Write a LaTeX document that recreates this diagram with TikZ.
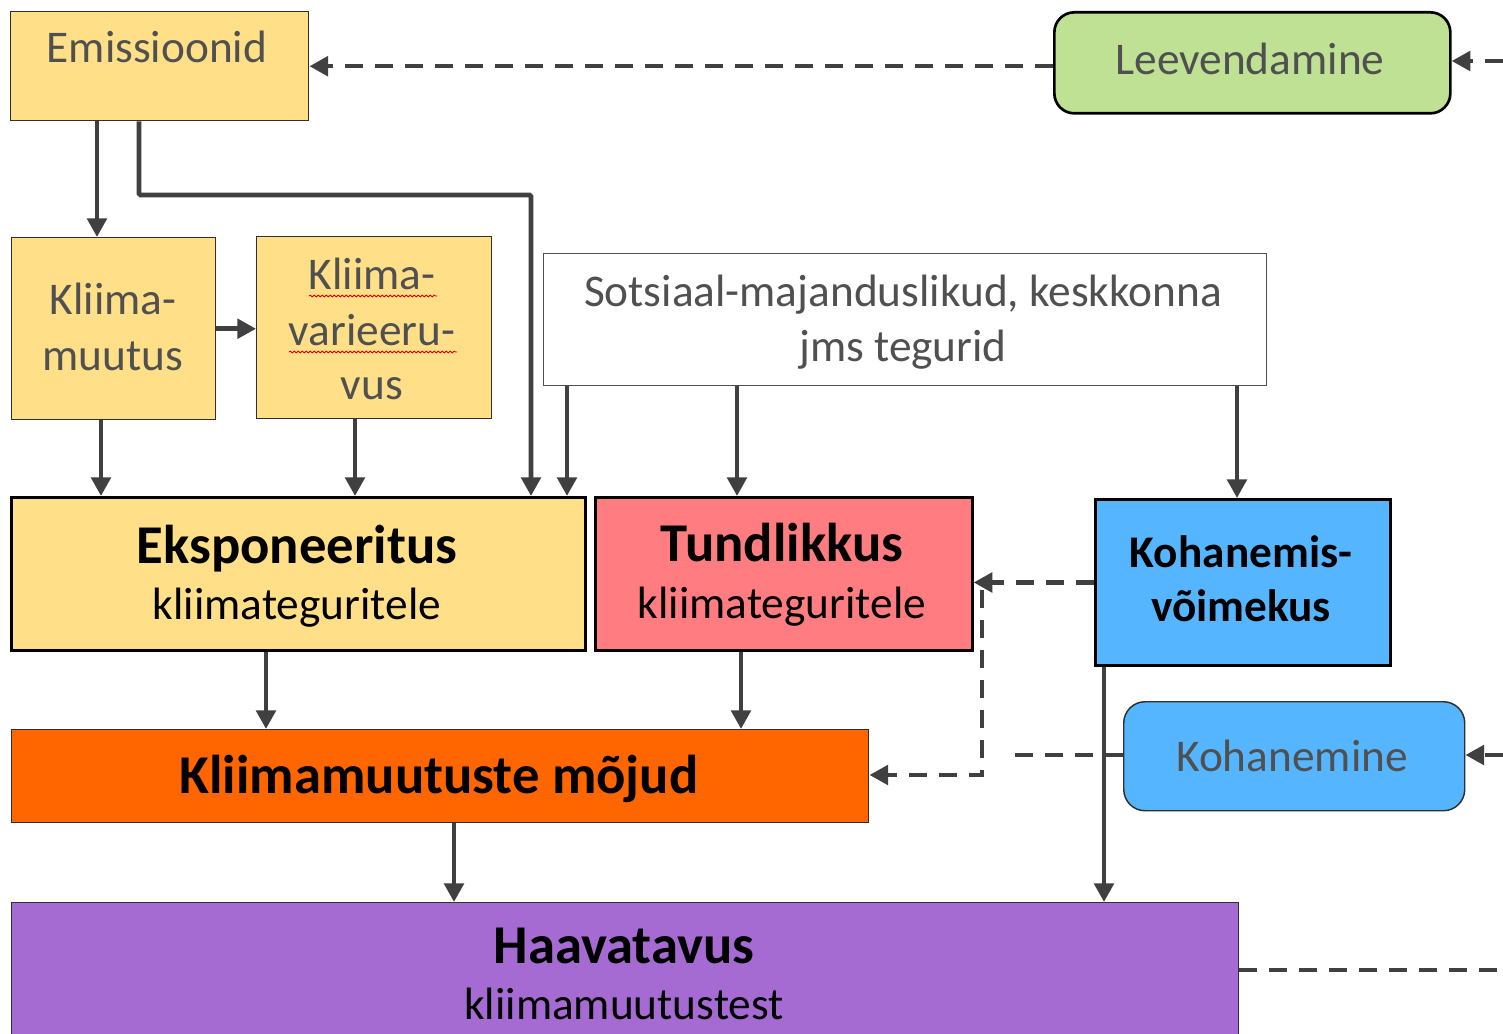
\documentclass[tikz,border=0pt]{standalone}
\usepackage{fontspec}
\setmainfont{Carlito}
\usetikzlibrary{arrows.meta,decorations.pathmorphing}
\definecolor{yel}{HTML}{FFE089}
\definecolor{grn}{HTML}{BFE194}
\definecolor{sal}{HTML}{FF7C80}
\definecolor{blu}{HTML}{55B6FF}
\definecolor{org}{HTML}{FF6600}
\definecolor{pur}{HTML}{A66BD3}
\definecolor{ln}{HTML}{404040}
\definecolor{tg}{HTML}{505050}
\definecolor{bd}{HTML}{303030}
\begin{document}
\begin{tikzpicture}[x=0.75pt,y=-0.75pt,
  box/.style={draw=bd,line width=1.1pt,inner sep=0pt,anchor=north west},
  thick box/.style={box,draw=black,line width=2.2pt},
  lt/.style={anchor=base,text=tg,font=\fontsize{34}{41}\selectfont,inner sep=0pt},
  bt/.style={anchor=base,text=black,font=\fontsize{41}{49}\selectfont\bfseries,inner sep=0pt},
  kt/.style={anchor=base,text=black,font=\fontsize{34}{41}\selectfont\bfseries,inner sep=0pt},
  dt/.style={anchor=base,text=black,font=\fontsize{34}{41}\selectfont,inner sep=0pt},
  arr/.style={draw=ln,line width=3.4pt,-{Triangle[width=14.5pt,length=14pt]}},
  darr/.style={draw=ln,line width=3.4pt,dash pattern=on 13.5pt off 9pt,-{Triangle[width=14.5pt,length=14pt]}},
  dline/.style={draw=ln,line width=3.4pt,dash pattern=on 13.5pt off 9pt},
  wavy/.style={draw=red!85!black,line width=0.6pt,decorate,decoration={snake,amplitude=0.7pt,segment length=3pt}}
]
\clip (0,0) rectangle (1503,1034);
\fill[white] (0,0) rectangle (1503,1034);

% boxes
\node[box,fill=yel,minimum width=223.5pt,minimum height=81.75pt] (E) at (10,11) {};
\node[box,draw=black,line width=2pt,fill=grn,rounded corners=15pt,minimum width=297pt,minimum height=75.75pt] (L) at (1053,11) {};
\node[box,fill=yel,minimum width=153pt,minimum height=136.5pt] (Km) at (11,237) {};
\node[box,fill=yel,minimum width=176.25pt,minimum height=136.5pt] (Kv) at (256,236) {};
\node[box,draw=tg,fill=white,minimum width=542.25pt,minimum height=99pt] (S) at (543,253) {};
\node[thick box,fill=yel,minimum width=430.5pt,minimum height=114.75pt] (Ex) at (10,496) {};
\node[thick box,line width=2pt,fill=sal,minimum width=282.75pt,minimum height=114.75pt] (T) at (594,496) {};
\node[thick box,fill=blu,minimum width=221.25pt,minimum height=124.5pt] (Ko) at (1094,498) {};
\node[box,fill=org,minimum width=642.75pt,minimum height=69.75pt] (M) at (11,729) {};
\node[box,fill=blu,rounded corners=16pt,minimum width=255.75pt,minimum height=81.75pt] (Kn) at (1123,701) {};
\node[box,fill=pur,minimum width=920.25pt,minimum height=105pt] (H) at (11,902) {};

% texts
\node[lt] (tE) at (157,63) {Emissioonid};
\node[lt] (tL) at (1250,75) {Leevendamine};
\node[lt] (tKm1) at (113,315) {Kliima-};
\node[lt] (tKm2) at (113,370) {muutus};
\node[lt] (tKv1) at (372,290) {Kliima-};
\node[lt] (tKv2) at (372,345) {varieeru-};
\node[lt] (tKv3) at (372,399) {vus};
\node[lt] (tS1) at (903,307) {Sotsiaal-majanduslikud, keskkonna};
\node[lt] (tS2) at (903,362) {jms tegurid};
\node[bt] (tEx1) at (297,563) {Eksponeeritus};
\node[dt] (tEx2) at (297,619) {kliimateguritele};
\node[bt] (tT1) at (782,561) {Tundlikkus};
\node[dt] (tT2) at (782,618) {kliimateguritele};
\node[kt] (tKo1) at (1241,567) {Kohanemis-};
\node[kt] (tKo2) at (1241,621) {võimekus};
\node[bt] (tM) at (439,793) {Kliimamuutuste mõjud};
\node[lt] (tKn) at (1292,771) {Kohanemine};
\node[bt] (tH1) at (624,963) {Haavatavus};
\node[dt] (tH2) at (624,1019) {kliimamuutustest};

% spell-check underlines
\draw[wavy] (309,296) -- (437,296);
\draw[wavy] (289,352) -- (457,352);

% helper coordinates
\coordinate (x97) at (97,0);
\coordinate (x139) at (139,0);
\coordinate (bend) at (531,195);
\coordinate (x101) at (101,0);
\coordinate (x355) at (355,0);
\coordinate (x567) at (567,0);
\coordinate (x737) at (737,0);
\coordinate (x1237) at (1237,0);
\coordinate (x266) at (266,0);
\coordinate (x741) at (741,0);
\coordinate (x454) at (454,0);
\coordinate (x1104) at (1104,0);
\coordinate (jn) at (982,581);
\coordinate (jb) at (982,775);
\coordinate (kend) at (1015,755);
\coordinate (rL) at (1503,61);
\coordinate (rK) at (1503,755);
\coordinate (rH) at (1503,970);

% solid arrows
\draw[arr] (E.south -| x97) -- (Km.north -| x97);
\draw[arr,rounded corners=1pt] (E.south -| x139) |- (bend) -- (Ex.north -| bend);
\draw[arr] (Km.east) -- (Km.east -| Kv.west);
\draw[arr] (Km.south -| x101) -- (Ex.north -| x101);
\draw[arr] (Kv.south -| x355) -- (Ex.north -| x355);
\draw[arr] (S.south -| x567) -- (Ex.north -| x567);
\draw[arr] (S.south -| x737) -- (T.north -| x737);
\draw[arr] (S.south -| x1237) -- (Ko.north -| x1237);
\draw[arr] (Ex.south -| x266) -- (M.north -| x266);
\draw[arr] (T.south -| x741) -- (M.north -| x741);
\draw[arr] (M.south -| x454) -- (H.north -| x454);
\draw[arr] (Ko.south -| x1104) -- (H.north -| x1104);

% dashed connectors
\draw[darr] (L.west |- E.east) -- (E.east);
\draw[darr] (rL) -- (rL -| L.east);
\draw[darr] (Ko.west) -- (Ko.west -| T.east);
\draw[darr] ([yshift=-7pt]jn) -- (jb) -- (jb -| M.east);
\draw[dline] (Kn.west |- kend) -- (kend);
\draw[darr] (rK) -- (rK -| Kn.east);
\draw[dline] (H.east |- rH) -- (rH);
\end{tikzpicture}
\end{document}
